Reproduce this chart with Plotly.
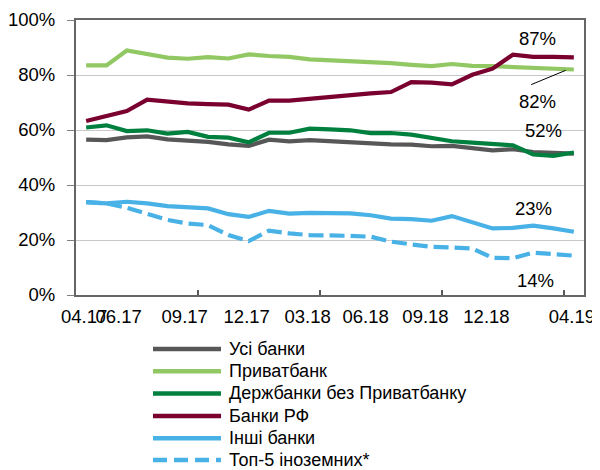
import plotly.graph_objects as go

# ---- data (share, %) monthly 04.17 .. 04.19 ----
months = list(range(25))
usi_banky = [56.5, 56.3, 57.3, 57.7, 56.6, 56.1, 55.7, 54.8, 54.2, 56.5, 55.9, 56.3, 55.9,
             55.7, 55.4, 54.8, 54.7, 54.1, 54.2, 53.5, 52.6, 53.0, 52.0, 51.7, 51.4]
privatbank = [83.5, 83.5, 88.9, 87.7, 86.3, 85.9, 86.5, 86.0, 87.5, 86.9, 86.6, 85.7, 85.4,
              85.1, 84.6, 84.3, 83.7, 83.2, 84.0, 83.3, 83.2, 82.9, 82.5, 82.3, 82.0]
derzhbanky = [60.9, 61.7, 59.6, 59.9, 58.7, 59.3, 57.5, 57.2, 55.5, 59.0, 59.0, 60.5, 60.2,
              59.9, 58.9, 58.9, 58.3, 57.2, 55.9, 55.4, 55.0, 54.4, 51.1, 50.6, 51.8]
banky_rf = [63.3, 65.0, 66.9, 71.0, 70.2, 69.7, 69.4, 69.2, 67.4, 70.7, 70.7, 71.4, 72.0,
            72.6, 73.3, 73.8, 77.4, 77.2, 76.6, 80.1, 82.3, 87.4, 86.6, 86.6, 86.4]
inshi_banky = [33.8, 33.3, 33.9, 33.3, 32.3, 31.8, 31.5, 29.4, 28.4, 30.6, 29.6, 29.9, 29.8,
               29.7, 29.0, 27.8, 27.6, 27.0, 28.7, 26.4, 24.2, 24.4, 25.2, 24.2, 23.0]
top5_inozemnykh = [33.8, 33.3, 31.7, 29.3, 27.3, 26.0, 25.4, 21.8, 19.6, 23.4, 22.4, 21.8, 21.8,
                   21.5, 21.2, 19.4, 18.4, 17.5, 17.3, 16.9, 13.5, 13.4, 15.4, 14.8, 14.3]

series_names = ["Усі банки", "Приватбанк", "Держбанки без Приватбанку",
                "Банки РФ", "Інші банки", "Топ-5 іноземних*"]
series_values = [usi_banky, privatbank, derzhbanky, banky_rf, inshi_banky, top5_inozemnykh]
series_colors = ["#575757", "#92C864", "#00803F", "#7A0030", "#48B1E6", "#48B1E6"]
series_dash = ["solid", "solid", "solid", "solid", "solid", "15px,6px"]

x_tick_labels = ["04.17", "06.17", "09.17", "12.17", "03.18", "06.18", "09.18", "12.18", "04.19"]
x_tick_label_pos = [-0.1, 1.6, 4.85, 7.9, 10.9, 13.75, 16.7, 19.7, 23.9]
x_tick_marks = [5.5, 11.5, 17.5, 23.5]
y_ticks = [0, 20, 40, 60, 80, 100]
y_tick_labels = ["0%", "20%", "40%", "60%", "80%", "100%"]

end_labels = ["87%", "82%", "52%", "23%", "14%"]
end_label_x = [22.2, 22.2, 22.5, 22.0, 22.1]
end_label_y = [93.3, 70.2, 59.9, 31.6, 5.4]

FONT = "Liberation Sans, Arial, sans-serif"

# page has an 8px body margin: figure drawn at (8,8)
OFF = 8
W, H = 600 - OFF, 470 - OFF
# plot area in page pixels
L, R, T, B = 76, 584, 19.5, 295

def px_x(p):
    return (p - L) / (R - L)

def px_y(p):
    return (B - p) / (B - T)

fig = go.Figure()
order = [5, 4, 0, 2, 1, 3]
for i in order:
    fig.add_trace(go.Scatter(
        x=months, y=series_values[i], mode="lines", name=series_names[i],
        line=dict(color=series_colors[i], width=4.2, dash=series_dash[i]),
        showlegend=False, xaxis="x", yaxis="y"))

fig.add_trace(go.Scatter(x=[months[0], months[-1]], y=[None, None], xaxis="x2", yaxis="y",
                         showlegend=False, hoverinfo="skip"))

annotations = []
for t, xv, yv in zip(end_labels, end_label_x, end_label_y):
    annotations.append(dict(x=xv, y=yv, xref="x", yref="y", text=t, showarrow=False,
                            font=dict(family=FONT, size=18.5, color="#000")))

shapes = []
shapes.append(dict(type="line", xref="x", yref="y", x0=21.9, y0=76.5, x1=23.6, y1=81.7,
                   line=dict(color="#000", width=1)))

leg_rows = [349, 371.5, 393.6, 416.1, 438.4, 460.4]
for i, yy in enumerate(leg_rows):
    shapes.append(dict(type="line", xref="paper", yref="paper",
                       x0=px_x(153), x1=px_x(221), y0=px_y(yy), y1=px_y(yy),
                       line=dict(color=series_colors[i], width=4.5,
                                 dash="14px,7px" if i == 5 else "solid")))
    annotations.append(dict(x=px_x(227), y=px_y(yy), xref="paper", yref="paper",
                            text=series_names[i], showarrow=False, xanchor="left",
                            yanchor="middle",
                            font=dict(family=FONT, size=18, color="#000")))

fig.update_layout(
    width=W, height=H,
    margin=dict(l=L - OFF, r=600 - R, t=T - OFF, b=470 - B, pad=0, autoexpand=False),
    paper_bgcolor="white", plot_bgcolor="white",
    showlegend=False,
    font=dict(family=FONT, size=18.5, color="#000"),
    xaxis=dict(range=[-0.5, 24.5], tickvals=x_tick_marks, ticktext=["" for _ in x_tick_marks],
               ticks="inside", ticklen=5, tickwidth=1.5, tickcolor="#595959",
               showgrid=False, zeroline=False, showline=True, linecolor="#666666",
               linewidth=2, mirror=True, automargin=False),
    xaxis2=dict(range=[-0.5, 24.5], overlaying="x", side="bottom", anchor="y",
                tickvals=x_tick_label_pos, ticktext=x_tick_labels, ticks="",
                tickangle=0, showgrid=False, zeroline=False, showline=False,
                tickfont=dict(family=FONT, size=18.5, color="#000"),
                ticklabelstandoff=8, automargin=False),
    yaxis=dict(range=[0, 100], tickvals=y_ticks, ticktext=y_tick_labels,
               ticks="outside", ticklen=7, tickwidth=1, tickcolor="#808080",
               showgrid=True, gridcolor="#C8C8C8", gridwidth=1,
               zeroline=False, showline=True, linecolor="#666666", linewidth=2, mirror=True,
               tickfont=dict(family=FONT, size=18.5, color="#000"),
               ticklabelstandoff=8, automargin=False),
    annotations=annotations,
    shapes=shapes,
)

fig.write_html("out.html")
